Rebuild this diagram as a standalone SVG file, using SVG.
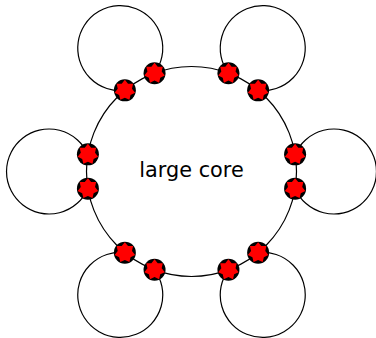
<svg xmlns="http://www.w3.org/2000/svg" xmlns:xlink="http://www.w3.org/1999/xlink" width="376" height="338" viewBox="0 0 376 338">
  <style>
    .line { fill: none; stroke: #000; stroke-width: 1.2; }
    .label { font-family: "DejaVu Sans", "Liberation Sans", sans-serif; font-size: 20.8px; fill: #000; }
  </style>
  <defs>
    <g id="dot">
      <circle r="11" fill="#000"/>
      <polygon fill="#ff0000" points="0,-10.5 3.17,-6.58 8.21,-6.55 7.12,-1.62 10.24,2.34 5.71,4.55 4.56,9.46 0,7.3 -4.56,9.46 -5.71,4.55 -10.24,2.34 -7.12,-1.62 -8.21,-6.55 -3.17,-6.58"/>
    </g>
  </defs>
  <rect width="376" height="338" fill="#fff"/>
  <g id="core">
    <circle class="line" cx="191.5" cy="171.5" r="105"/>
    <text class="label" x="191.5" y="177" text-anchor="middle">large core</text>
  </g>
  <g id="connectors">
    <path class="line" d="M295.09,154.35 A42.5,42.5 0 1 1 295.09,188.65"/>
    <path class="line" d="M258.14,252.63 A42.5,42.5 0 1 1 228.44,269.79"/>
    <path class="line" d="M154.56,269.79 A42.5,42.5 0 1 1 124.86,252.63"/>
    <path class="line" d="M87.91,188.65 A42.5,42.5 0 1 1 87.91,154.35"/>
    <path class="line" d="M124.86,90.37 A42.5,42.5 0 1 1 154.56,73.21"/>
    <path class="line" d="M228.44,73.21 A42.5,42.5 0 1 1 258.14,90.37"/>
  </g>
  <g id="port-r1"><use xlink:href="#dot" x="295.09" y="154.35"/></g>
  <g id="port-r2"><use xlink:href="#dot" x="295.09" y="188.65"/></g>
  <g id="port-br1"><use xlink:href="#dot" x="258.14" y="252.63"/></g>
  <g id="port-br2"><use xlink:href="#dot" x="228.44" y="269.79"/></g>
  <g id="port-bl1"><use xlink:href="#dot" x="154.56" y="269.79"/></g>
  <g id="port-bl2"><use xlink:href="#dot" x="124.86" y="252.63"/></g>
  <g id="port-l1"><use xlink:href="#dot" x="87.91" y="188.65"/></g>
  <g id="port-l2"><use xlink:href="#dot" x="87.91" y="154.35"/></g>
  <g id="port-tl1"><use xlink:href="#dot" x="124.86" y="90.37"/></g>
  <g id="port-tl2"><use xlink:href="#dot" x="154.56" y="73.21"/></g>
  <g id="port-tr1"><use xlink:href="#dot" x="228.44" y="73.21"/></g>
  <g id="port-tr2"><use xlink:href="#dot" x="258.14" y="90.37"/></g>
</svg>
